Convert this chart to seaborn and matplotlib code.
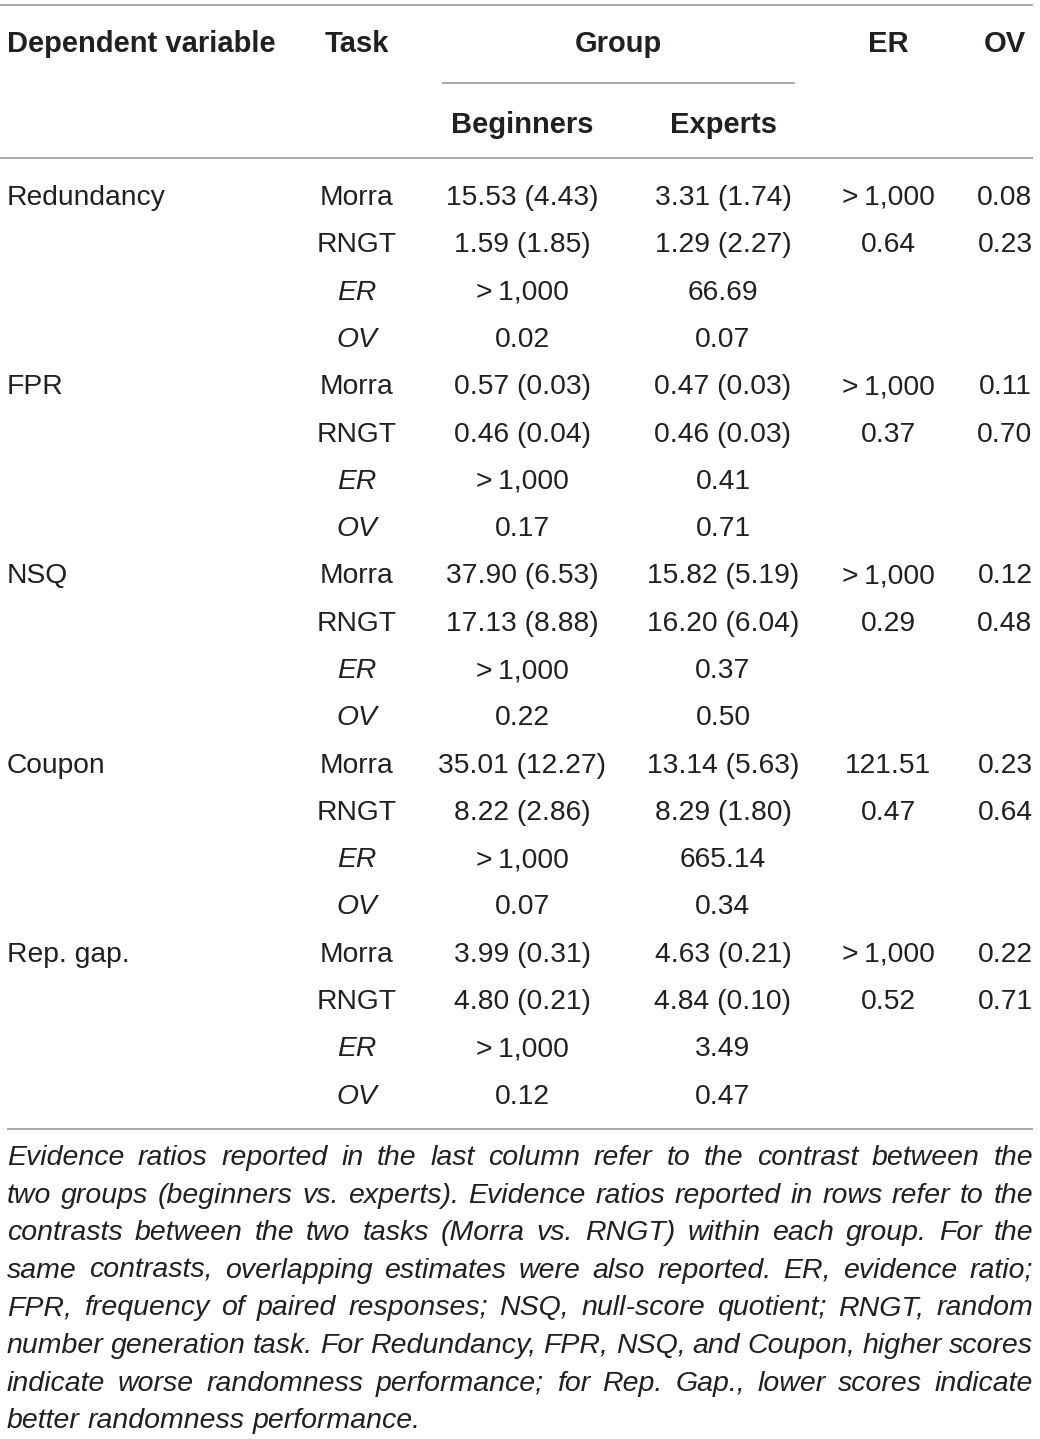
"""
Table: randomness indices by group and task, drawn as text on a pixel-scaled axes
"""
import matplotlib
matplotlib.use("Agg")
import matplotlib.pyplot as plt
import seaborn as sns

sns.set_theme(style="white")
plt.rcParams["font.family"] = ["Liberation Sans", "DejaVu Sans"]

# ---- data ----
dep_vars = ["Redundancy", "FPR", "NSQ", "Coupon", "Rep. gap."]
tasks = ["Morra", "RNGT", "ER", "OV"]
beginners = [
    "15.53 (4.43)", "1.59 (1.85)", ">\u20091,000", "0.02",
    "0.57 (0.03)", "0.46 (0.04)", ">\u20091,000", "0.17",
    "37.90 (6.53)", "17.13 (8.88)", ">\u20091,000", "0.22",
    "35.01 (12.27)", "8.22 (2.86)", ">\u20091,000", "0.07",
    "3.99 (0.31)", "4.80 (0.21)", ">\u20091,000", "0.12",
]
experts = [
    "3.31 (1.74)", "1.29 (2.27)", "66.69", "0.07",
    "0.47 (0.03)", "0.46 (0.03)", "0.41", "0.71",
    "15.82 (5.19)", "16.20 (6.04)", "0.37", "0.50",
    "13.14 (5.63)", "8.29 (1.80)", "665.14", "0.34",
    "4.63 (0.21)", "4.84 (0.10)", "3.49", "0.47",
]
er_col = [
    ">\u20091,000", "0.64", "", "",
    ">\u20091,000", "0.37", "", "",
    ">\u20091,000", "0.29", "", "",
    "121.51", "0.47", "", "",
    ">\u20091,000", "0.52", "", "",
]
ov_col = [
    "0.08", "0.23", "", "",
    "0.11", "0.70", "", "",
    "0.12", "0.48", "", "",
    "0.23", "0.64", "", "",
    "0.22", "0.71", "", "",
]
footnote = [
    "Evidence ratios reported in the last column refer to the contrast between the",
    "two groups (beginners vs. experts). Evidence ratios reported in rows refer to the",
    "contrasts between the two tasks (Morra vs. RNGT) within each group. For the",
    "same contrasts, overlapping estimates were also reported. ER, evidence ratio;",
    "FPR, frequency of paired responses; NSQ, null-score quotient; RNGT, random",
    "number generation task. For Redundancy, FPR, NSQ, and Coupon, higher scores",
    "indicate worse randomness performance; for Rep. Gap., lower scores indicate",
    "better randomness performance.",
]

# ---- layout (pixels) ----
W, H = 1040, 1439
FS = 20.3          # ~28 px body
FS_HDR = 21.0      # bold header
FS_FN = 20.5       # italic footnote
TXT = "#231f20"
RULE = "#9a9a9a"
x_dep, x_task, x_beg, x_exp, x_er, x_ov = 7, 357, 522, 723, 888, 1005
row0, row_h = 205, 47.3

fig = plt.figure(figsize=(W / 100, H / 100), dpi=100)
ax = fig.add_axes([0, 0, 1, 1])
ax.set_xlim(0, W)
ax.set_ylim(H, 0)
ax.axis("off")

# rules
ax.hlines(5, 0, 1033, color=RULE, lw=1.2)
ax.hlines(83, 442, 795, color=RULE, lw=1.2)
ax.hlines(158, 0, 1033, color=RULE, lw=1.2)
ax.hlines(1129, 7, 1033, color=RULE, lw=1.2)

# header
hdr = dict(fontsize=FS_HDR, fontweight="bold", color=TXT, va="baseline")
ax.text(x_dep, 52, "Dependent variable", ha="left", **hdr)
ax.text(x_task, 52, "Task", ha="center", **hdr)
ax.text(618, 52, "Group", ha="center", **hdr)
ax.text(x_er, 52, "ER", ha="center", **hdr)
ax.text(x_ov, 52, "OV", ha="center", **hdr)
ax.text(x_beg, 133, "Beginners", ha="center", **hdr)
ax.text(x_exp, 133, "Experts", ha="center", **hdr)

# body
cell = dict(fontsize=FS, color=TXT, va="baseline", ha="center")
for i in range(len(beginners)):
    y = row0 + i * row_h
    if i % 4 == 0:
        ax.text(x_dep, y, dep_vars[i // 4], fontsize=FS, color=TXT, va="baseline", ha="left")
    task = tasks[i % 4]
    ax.text(x_task, y, task, style="italic" if task in ("ER", "OV") else "normal", **cell)
    ax.text(x_beg, y, beginners[i], **cell)
    ax.text(x_exp, y, experts[i], **cell)
    ax.text(x_er, y, er_col[i], **cell)
    ax.text(x_ov, y, ov_col[i], **cell)

# justified italic footnote
renderer = fig.canvas.get_renderer()
left, right = 7, 1033
fn_y0, fn_h = 1165, 37.6
probe2 = ax.text(0, 0, "a a", fontsize=FS_FN, style="italic")
probe1 = ax.text(0, 0, "aa", fontsize=FS_FN, style="italic")
space_w = probe2.get_window_extent(renderer).width - probe1.get_window_extent(renderer).width
probe1.remove()
probe2.remove()
for k, line in enumerate(footnote):
    y = fn_y0 + k * fn_h
    words = line.split(" ")
    objs = [ax.text(0, y, w, fontsize=FS_FN, style="italic", color=TXT, va="baseline", ha="left")
            for w in words]
    widths = [o.get_window_extent(renderer).width for o in objs]
    if k == len(footnote) - 1:
        gap = space_w
    else:
        gap = (right - left - sum(widths)) / (len(words) - 1)
    x = left
    for o, w in zip(objs, widths):
        o.set_x(x)
        x += w + gap

fig.savefig("out.png", dpi=100)
